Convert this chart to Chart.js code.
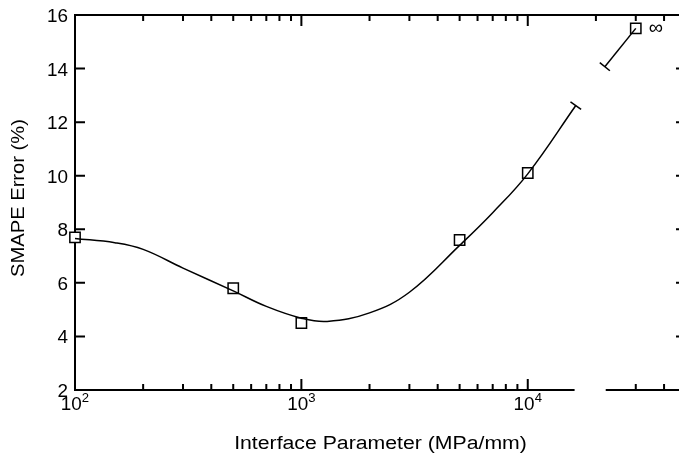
<!DOCTYPE html>
<html>
<head>
<meta charset="utf-8">
<script src="https://cdn.jsdelivr.net/npm/chart.js@4.4.0/dist/chart.umd.min.js"></script>
<style>
  html, body { margin: 0; padding: 0; overflow: hidden; background: #fff; }
  #wrap { width: 700px; height: 454px; }
</style>
</head>
<body>
<div id="wrap"><canvas id="myChart" width="700" height="454"></canvas></div>
<script>
// measured points, the last one is the "infinite" parameter, plotted at 3e4
const paramValues = [100, 500, 1000, 5000, 10000, 30000];
const smapeValues = [7.7, 5.8, 4.5, 7.6, 10.1, 15.5];

// fitted curve
const fitX = [100, 150, 200, 300, 500, 700, 1000, 1300, 2000, 3000, 5000, 7000, 10000, 16300];
const fitY = [7.66, 7.5, 7.25, 6.55, 5.7, 5.12, 4.68, 4.56, 4.88, 5.65, 7.4, 8.62, 10.07, 12.62];

// short piece after the break, up to the infinite point
const tailX = [21900, 30000];
const tailY = [14.07, 15.5];

const yTicks = [2, 4, 6, 8, 10, 12, 14, 16];
const xMajor = [100, 1000, 10000];
const xMajorExp = ['2', '3', '4'];
const xMinor = [200, 300, 400, 500, 600, 700, 800, 900,
  2000, 3000, 4000, 5000, 6000, 7000, 8000, 9000, 20000, 30000, 40000];
const axisBreak = [16100, 22100];

const FONT = '"Liberation Sans", Arial, Helvetica, sans-serif';

// text is a little wider than Arial in the original, so stretch it along its run
function wideText(ctx, str, x, y, size, sx, align, rot) {
  ctx.save();
  ctx.translate(x, y);
  if (rot) ctx.rotate(rot);
  ctx.scale(sx, 1);
  ctx.font = size + 'px ' + FONT;
  ctx.textAlign = align;
  ctx.fillText(str, 0, 0);
  ctx.restore();
}

const axesPlugin = {
  id: 'axes',
  beforeDatasetsDraw(chart) {
    const { ctx, chartArea: a, scales: { x, y } } = chart;
    const b0 = x.getPixelForValue(axisBreak[0]);
    const b1 = x.getPixelForValue(axisBreak[1]);
    ctx.save();
    ctx.strokeStyle = '#000';
    ctx.lineWidth = 2;
    ctx.beginPath();
    ctx.moveTo(a.left, a.bottom + 1);
    ctx.lineTo(a.left, a.top);
    ctx.lineTo(a.right, a.top);
    ctx.lineTo(a.right, a.bottom);
    ctx.moveTo(a.left - 1, a.bottom);
    ctx.lineTo(b0, a.bottom);
    ctx.moveTo(b1, a.bottom);
    ctx.lineTo(a.right, a.bottom);
    ctx.stroke();

    // inward ticks
    ctx.beginPath();
    yTicks.forEach(v => {
      const py = y.getPixelForValue(v);
      ctx.moveTo(a.left, py); ctx.lineTo(a.left + 10, py);
      ctx.moveTo(a.right, py); ctx.lineTo(a.right - 10, py);
    });
    const xTick = (v, len) => {
      const px = x.getPixelForValue(v);
      if (!(px > b0 - 1 && px < b1 + 1)) {
        ctx.moveTo(px, a.bottom); ctx.lineTo(px, a.bottom - len);
      }
      ctx.moveTo(px, a.top); ctx.lineTo(px, a.top + len);
    };
    xMajor.forEach(v => xTick(v, 11));
    xMinor.forEach(v => xTick(v, 6));
    ctx.stroke();

    // tick labels
    ctx.fillStyle = '#000';
    ctx.textBaseline = 'middle';
    yTicks.forEach(v => {
      wideText(ctx, String(v), a.left - 7, y.getPixelForValue(v) + 2, 18, 1.05, 'right');
    });
    ctx.textBaseline = 'alphabetic';
    xMajor.forEach((v, i) => {
      const px = x.getPixelForValue(v);
      ctx.font = '18px ' + FONT;
      const w1 = ctx.measureText('10').width * 1.05;
      ctx.font = '12.5px ' + FONT;
      const w2 = ctx.measureText(xMajorExp[i]).width * 1.05;
      const left = px - (w1 + w2) / 2;
      wideText(ctx, '10', left, 410, 18, 1.05, 'left');
      wideText(ctx, xMajorExp[i], left + w1, 402, 12.5, 1.05, 'left');
    });

    // axis titles
    wideText(ctx, 'Interface Parameter (MPa/mm)', (a.left + a.right) / 2, 449, 18, 1.18, 'center');
    ctx.textBaseline = 'middle';
    wideText(ctx, 'SMAPE Error (%)', 19, 198, 18, 1.12, 'center', -Math.PI / 2);
    ctx.restore();
  },
  afterDatasetsDraw(chart) {
    const { ctx, scales: { x, y } } = chart;
    ctx.save();
    ctx.strokeStyle = '#000';
    ctx.lineWidth = 1.5;
    // break caps, perpendicular to the curve at its ends
    const cap = (xa, ya, xb, yb) => {
      const p0x = x.getPixelForValue(xa), p0y = y.getPixelForValue(ya);
      const p1x = x.getPixelForValue(xb), p1y = y.getPixelForValue(yb);
      const dx = p1x - p0x, dy = p1y - p0y, l = Math.hypot(dx, dy);
      const nx = -dy / l * 6.5, ny = dx / l * 6.5;
      ctx.beginPath();
      ctx.moveTo(p0x + nx, p0y + ny);
      ctx.lineTo(p0x - nx, p0y - ny);
      ctx.stroke();
    };
    const n = fitX.length;
    cap(fitX[n - 1], fitY[n - 1], fitX[n - 2], fitY[n - 2]);
    cap(tailX[0], tailY[0], tailX[1], tailY[1]);

    // infinity mark next to the last point
    const last = paramValues.length - 1;
    ctx.fillStyle = '#000';
    ctx.font = '20px ' + FONT;
    ctx.textAlign = 'left';
    ctx.textBaseline = 'alphabetic';
    ctx.fillText('\u221E', x.getPixelForValue(paramValues[last]) + 13,
      y.getPixelForValue(smapeValues[last]) + 6);
    ctx.restore();
  }
};

new Chart(document.getElementById('myChart'), {
  type: 'scatter',
  data: {
    datasets: [
      {
        label: 'fit',
        data: fitX.map((v, i) => ({ x: v, y: fitY[i] })),
        showLine: true,
        borderColor: '#000',
        borderWidth: 1.5,
        pointRadius: 0,
        tension: 0.4,
        clip: false
      },
      {
        label: 'tail',
        data: tailX.map((v, i) => ({ x: v, y: tailY[i] })),
        showLine: true,
        borderColor: '#000',
        borderWidth: 1.5,
        pointRadius: 0,
        clip: false
      },
      {
        label: 'SMAPE',
        data: paramValues.map((v, i) => ({ x: v, y: smapeValues[i] })),
        showLine: false,
        pointStyle: 'rect',
        pointRadius: 7.3,
        pointBackgroundColor: '#fff',
        pointBorderColor: '#000',
        pointBorderWidth: 1.5,
        clip: false
      }
    ]
  },
  options: {
    responsive: false,
    animation: false,
    events: [],
    layout: { padding: { left: 75, top: 15, right: 14, bottom: 64 } },
    plugins: { legend: { display: false }, tooltip: { enabled: false } },
    scales: {
      x: { type: 'logarithmic', min: 100, max: 50000, display: false },
      y: { type: 'linear', min: 2, max: 16, display: false }
    }
  },
  plugins: [axesPlugin]
});
</script>
</body>
</html>
